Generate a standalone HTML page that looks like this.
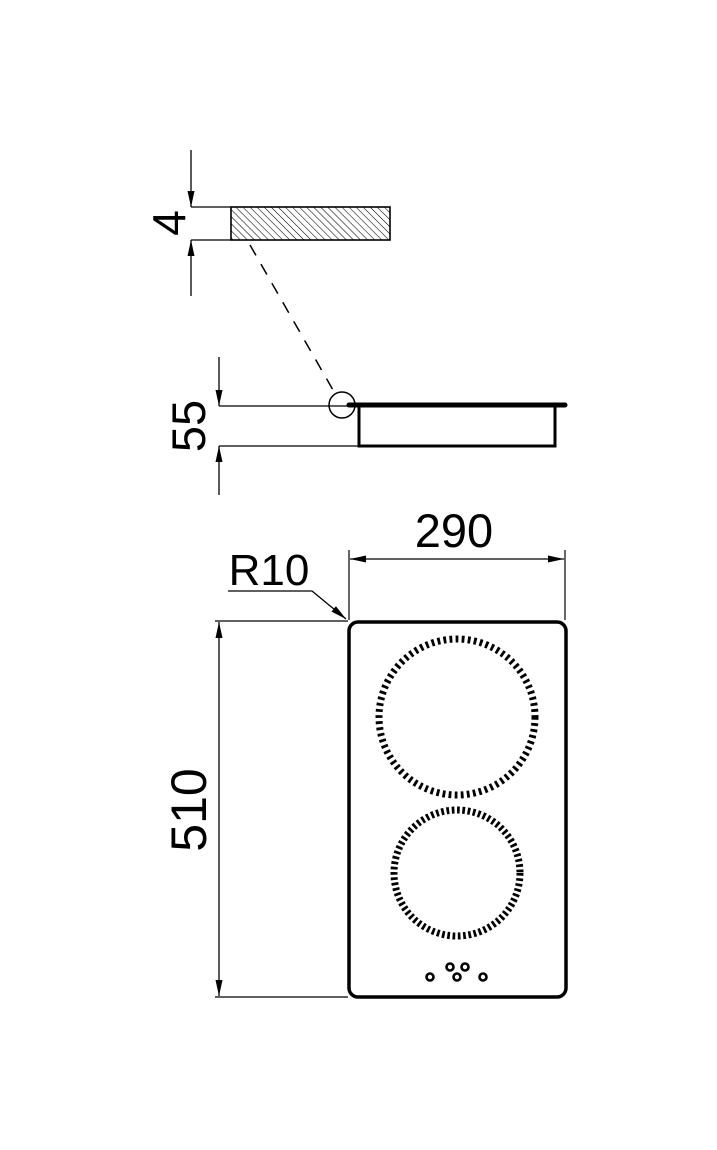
<!DOCTYPE html>
<html><head><meta charset="utf-8"><style>body{margin:0;background:#fff}svg{display:block}</style></head>
<body>
<svg width="717" height="1150" viewBox="0 0 717 1150" xmlns="http://www.w3.org/2000/svg" font-family="Liberation Sans, sans-serif">
<defs>
<pattern id="h" width="5" height="5" patternUnits="userSpaceOnUse" patternTransform="rotate(-45)">
<line x1="0" y1="0" x2="0" y2="5" stroke="#000" stroke-width="1.1"/>
</pattern>
<marker id="a" viewBox="0 0 16 7" refX="16" refY="3.5" markerWidth="16" markerHeight="7" markerUnits="userSpaceOnUse" orient="auto"><path d="M0,0L16,3.5L0,7z" fill="#000"/></marker>
</defs>
<g stroke="#000" fill="none">
<!-- 4 dim -->
<line x1="191" y1="150" x2="191" y2="207" stroke-width="1.3" marker-end="url(#a)"/>
<line x1="191" y1="296" x2="191" y2="240" stroke-width="1.3" marker-end="url(#a)"/>
<line x1="191" y1="207" x2="231" y2="207" stroke-width="1.2"/>
<line x1="191" y1="240" x2="231" y2="240" stroke-width="1.2"/>
<rect x="231" y="207" width="159" height="33" fill="url(#h)" stroke-width="1.6"/>
<line x1="250" y1="245" x2="333" y2="390" stroke-width="1.5" stroke-dasharray="12,10"/>
<circle cx="342" cy="405" r="13" stroke-width="1.5"/>
<!-- 55 dim -->
<line x1="219" y1="357" x2="219" y2="406" stroke-width="1.3" marker-end="url(#a)"/>
<line x1="219" y1="495" x2="219" y2="446" stroke-width="1.3" marker-end="url(#a)"/>
<line x1="219" y1="406" x2="350" y2="406" stroke-width="1.2"/>
<line x1="219" y1="446" x2="358" y2="446" stroke-width="1.2"/>
<line x1="349" y1="405" x2="565" y2="405" stroke-width="5" stroke-linecap="round"/>
<path d="M359,405V446H555V405" stroke-width="3"/>
<!-- 290 -->
<line x1="349" y1="550" x2="349" y2="620" stroke-width="1.2"/>
<line x1="565" y1="550" x2="565" y2="620" stroke-width="1.2"/>
<line x1="457" y1="559" x2="350" y2="559" stroke-width="1.3" marker-end="url(#a)"/>
<line x1="457" y1="559" x2="564" y2="559" stroke-width="1.3" marker-end="url(#a)"/>
<!-- R10 -->
<path d="M228,591H312L346,619" stroke-width="1.3" marker-end="url(#a)"/>
<!-- 510 -->
<line x1="215" y1="621" x2="348" y2="621" stroke-width="1.2"/>
<line x1="215" y1="997" x2="348" y2="997" stroke-width="1.2"/>
<line x1="219" y1="810" x2="219" y2="622" stroke-width="1.3" marker-end="url(#a)"/>
<line x1="219" y1="810" x2="219" y2="996" stroke-width="1.3" marker-end="url(#a)"/>
<!-- hob -->
<rect x="349" y="622" width="217" height="375" rx="9" stroke-width="3.5"/>
<circle cx="457" cy="717" r="78" stroke-width="7" stroke-dasharray="2.8,3.3"/>
<circle cx="457" cy="873" r="63" stroke-width="7" stroke-dasharray="2.7,2.6"/>
<g stroke-width="2.6"><circle cx="430" cy="977" r="3.5"/><circle cx="450" cy="967" r="3.5"/><circle cx="465" cy="967" r="3.5"/><circle cx="457" cy="977" r="3.5"/><circle cx="483" cy="977" r="3.5"/></g>
</g>
<g fill="#000">
<text x="0" y="0" font-size="46" text-anchor="middle" transform="translate(185,223) rotate(-90)">4</text>
<text x="0" y="0" font-size="47" text-anchor="middle" transform="translate(205,426) rotate(-90)">55</text>
<text x="454" y="547" font-size="47" text-anchor="middle">290</text>
<text x="269" y="585" font-size="44" text-anchor="middle">R10</text>
<text x="0" y="0" font-size="50" text-anchor="middle" transform="translate(206,810) rotate(-90)">510</text>
</g>
</svg>
</body></html>
